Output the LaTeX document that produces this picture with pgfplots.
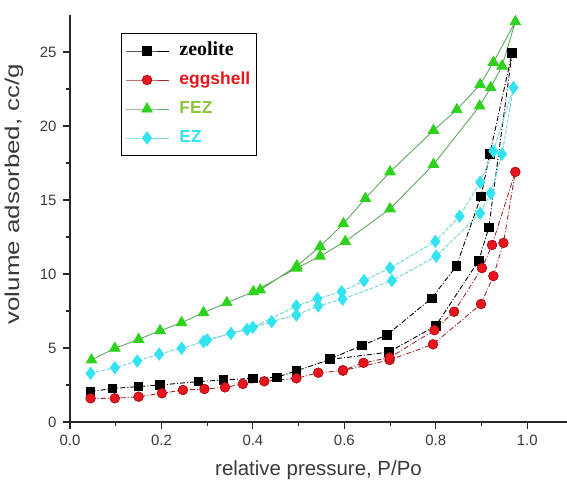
\documentclass[border=0pt]{standalone}
\usepackage{fontspec}
\setmainfont{Liberation Sans}
\newfontfamily\timesfont{Liberation Serif}
\usepackage{graphicx}
\usepackage{pgfplots}
\pgfplotsset{compat=1.18}

\definecolor{eggred}{HTML}{E8161C}
\definecolor{eggedge}{HTML}{B0101A}
\definecolor{eggline}{HTML}{9E2A2A}
\definecolor{fezgreen}{HTML}{2ED11C}
\definecolor{fezline}{HTML}{5FA85F}
\definecolor{feztext}{HTML}{8CC63F}
\definecolor{ezcyan}{HTML}{33E3F0}
\definecolor{ezline}{HTML}{6FD3DC}
\definecolor{ticktext}{HTML}{3A3A3A}

\begin{document}
\begin{tikzpicture}
\begin{axis}[
    at={(70bp,59bp)}, anchor=south west,
    scale only axis, width=497bp, height=407bp,
    xmin=0, xmax=1.087, ymin=0, ymax=27.5,
    axis lines=left,
    axis line style={-, line width=1.3bp, black!85},
    tick align=outside,
    major tick length=7bp, minor tick length=4bp,
    tick style={line width=1.1bp, black!85},
    xtick={0,0.2,0.4,0.6,0.8,1.0}, minor x tick num=1,
    ytick={0,5,10,15,20,25}, minor y tick num=1,
    /pgf/number format/assume math mode=true,
    every tick label/.append style={font=\fontsize{15}{15}\selectfont, text=ticktext},
    x tick label style={/pgf/number format/.cd, fixed, fixed zerofill, precision=1, /tikz/.cd, yshift=-3bp},
    y tick label style={xshift=-3bp},
    xlabel={relative pressure, P/Po},
    xlabel style={at={(axis description cs:0.5,-0.1315)}, anchor=base,
        font=\fontsize{20.5}{20.5}\selectfont, text=ticktext},
    ylabel={\scalebox{1.3}[1]{volume adsorbed, cc/g}},
    ylabel style={at={(axis description cs:-0.1127,0.56)}, anchor=center,
        font=\fontsize{20}{20}\selectfont, text=ticktext},
    legend cell align=left,
    legend image code/.code={
        \draw[mark repeat=2, mark phase=2, #1, solid]
            plot coordinates {(0bp,0bp) (21bp,0bp) (43bp,0bp)};
    },
    legend style={at={(axis description cs:0.1026,0.956)}, anchor=north west,
        draw=black, line width=1.2bp, fill=white,
        inner xsep=4bp, inner ysep=6bp, row sep=6bp, column sep=8bp,
        nodes={text height=14bp, text depth=5bp, inner sep=2bp}},
]

% zeolite: adsorption branch, then desorption back down
\addplot[black, line width=0.9bp, dash pattern=on 5bp off 2bp on 1bp off 2bp,
    mark=square*, mark size=4.3bp, mark options={solid, fill=black}]
coordinates {
    (0.045,2.05) (0.093,2.27) (0.150,2.39) (0.197,2.50) (0.281,2.73)
    (0.336,2.84) (0.400,2.95) (0.452,3.02) (0.495,3.45) (0.568,4.22)
    (0.697,4.72) (0.800,6.50) (0.894,10.90) (0.916,13.15) (0.967,24.95)
    (0.918,18.10) (0.899,15.25) (0.845,10.54) (0.791,8.36) (0.693,5.88)
    (0.638,5.16) (0.568,4.26)
};
\addlegendentry{{\timesfont\bfseries\fontsize{20}{20}\selectfont zeolite}}

% eggshell
\addplot[eggline, line width=0.9bp, dash pattern=on 5bp off 2bp on 1bp off 2bp,
    mark=*, mark size=4.8bp, mark options={solid, fill=eggred, draw=eggedge, line width=0.8bp}]
coordinates {
    (0.045,1.60) (0.098,1.60) (0.150,1.71) (0.201,1.94) (0.247,2.16)
    (0.294,2.23) (0.339,2.34) (0.378,2.57) (0.425,2.75) (0.495,2.95)
    (0.543,3.33) (0.597,3.47) (0.699,4.19) (0.794,5.25) (0.899,7.97)
    (0.926,9.86) (0.948,12.10) (0.974,16.90)
    (0.923,11.96) (0.901,10.40) (0.840,7.45) (0.797,6.20) (0.699,4.35)
    (0.642,4.00) (0.597,3.50)
};
\addlegendentry{\textcolor{eggred}{\bfseries\fontsize{17.5}{17.5}\selectfont eggshell}}

% FEZ
\addplot[fezline, line width=0.9bp,
    mark=triangle*, mark size=6bp, mark options={solid, fill=fezgreen, draw=fezgreen}]
coordinates {
    (0.047,4.19) (0.098,4.98) (0.150,5.58) (0.197,6.17) (0.244,6.71)
    (0.292,7.39) (0.343,8.06) (0.401,8.80) (0.496,10.40) (0.547,11.20)
    (0.602,12.20) (0.700,14.40) (0.795,17.40) (0.896,21.35) (0.920,22.60)
    (0.945,24.05) (0.974,27.05)
    (0.926,24.30) (0.897,22.80) (0.846,21.10) (0.795,19.70) (0.700,16.90)
    (0.646,15.10) (0.598,13.40) (0.547,11.85) (0.496,10.55) (0.416,8.92)
};
\addlegendentry{\textcolor{feztext}{\bfseries\fontsize{17.5}{17.5}\selectfont FEZ}}

% EZ
\addplot[ezline, line width=0.9bp, dash pattern=on 4bp off 1.5bp,
    mark=diamond*, mark size=6bp, mark options={solid, fill=ezcyan, draw=ezcyan}]
coordinates {
    (0.045,3.29) (0.098,3.67) (0.147,4.12) (0.195,4.59) (0.244,4.98)
    (0.292,5.43) (0.352,5.99) (0.387,6.25) (0.441,6.78) (0.495,7.23)
    (0.543,7.84) (0.596,8.30) (0.704,9.55) (0.801,11.20) (0.897,14.10)
    (0.920,15.45) (0.945,18.10) (0.970,22.60)
    (0.926,18.30) (0.897,16.20) (0.852,13.90) (0.799,12.20) (0.700,10.40)
    (0.643,9.55) (0.594,8.80) (0.541,8.33) (0.495,7.84) (0.400,6.40)
    (0.300,5.55)
};
\addlegendentry{\textcolor{ezcyan}{\bfseries\fontsize{17.5}{17.5}\selectfont EZ}}

\end{axis}
\pgfresetboundingbox
\path[use as bounding box] (0bp,0bp) rectangle (567bp,481bp);
\end{tikzpicture}
\end{document}
